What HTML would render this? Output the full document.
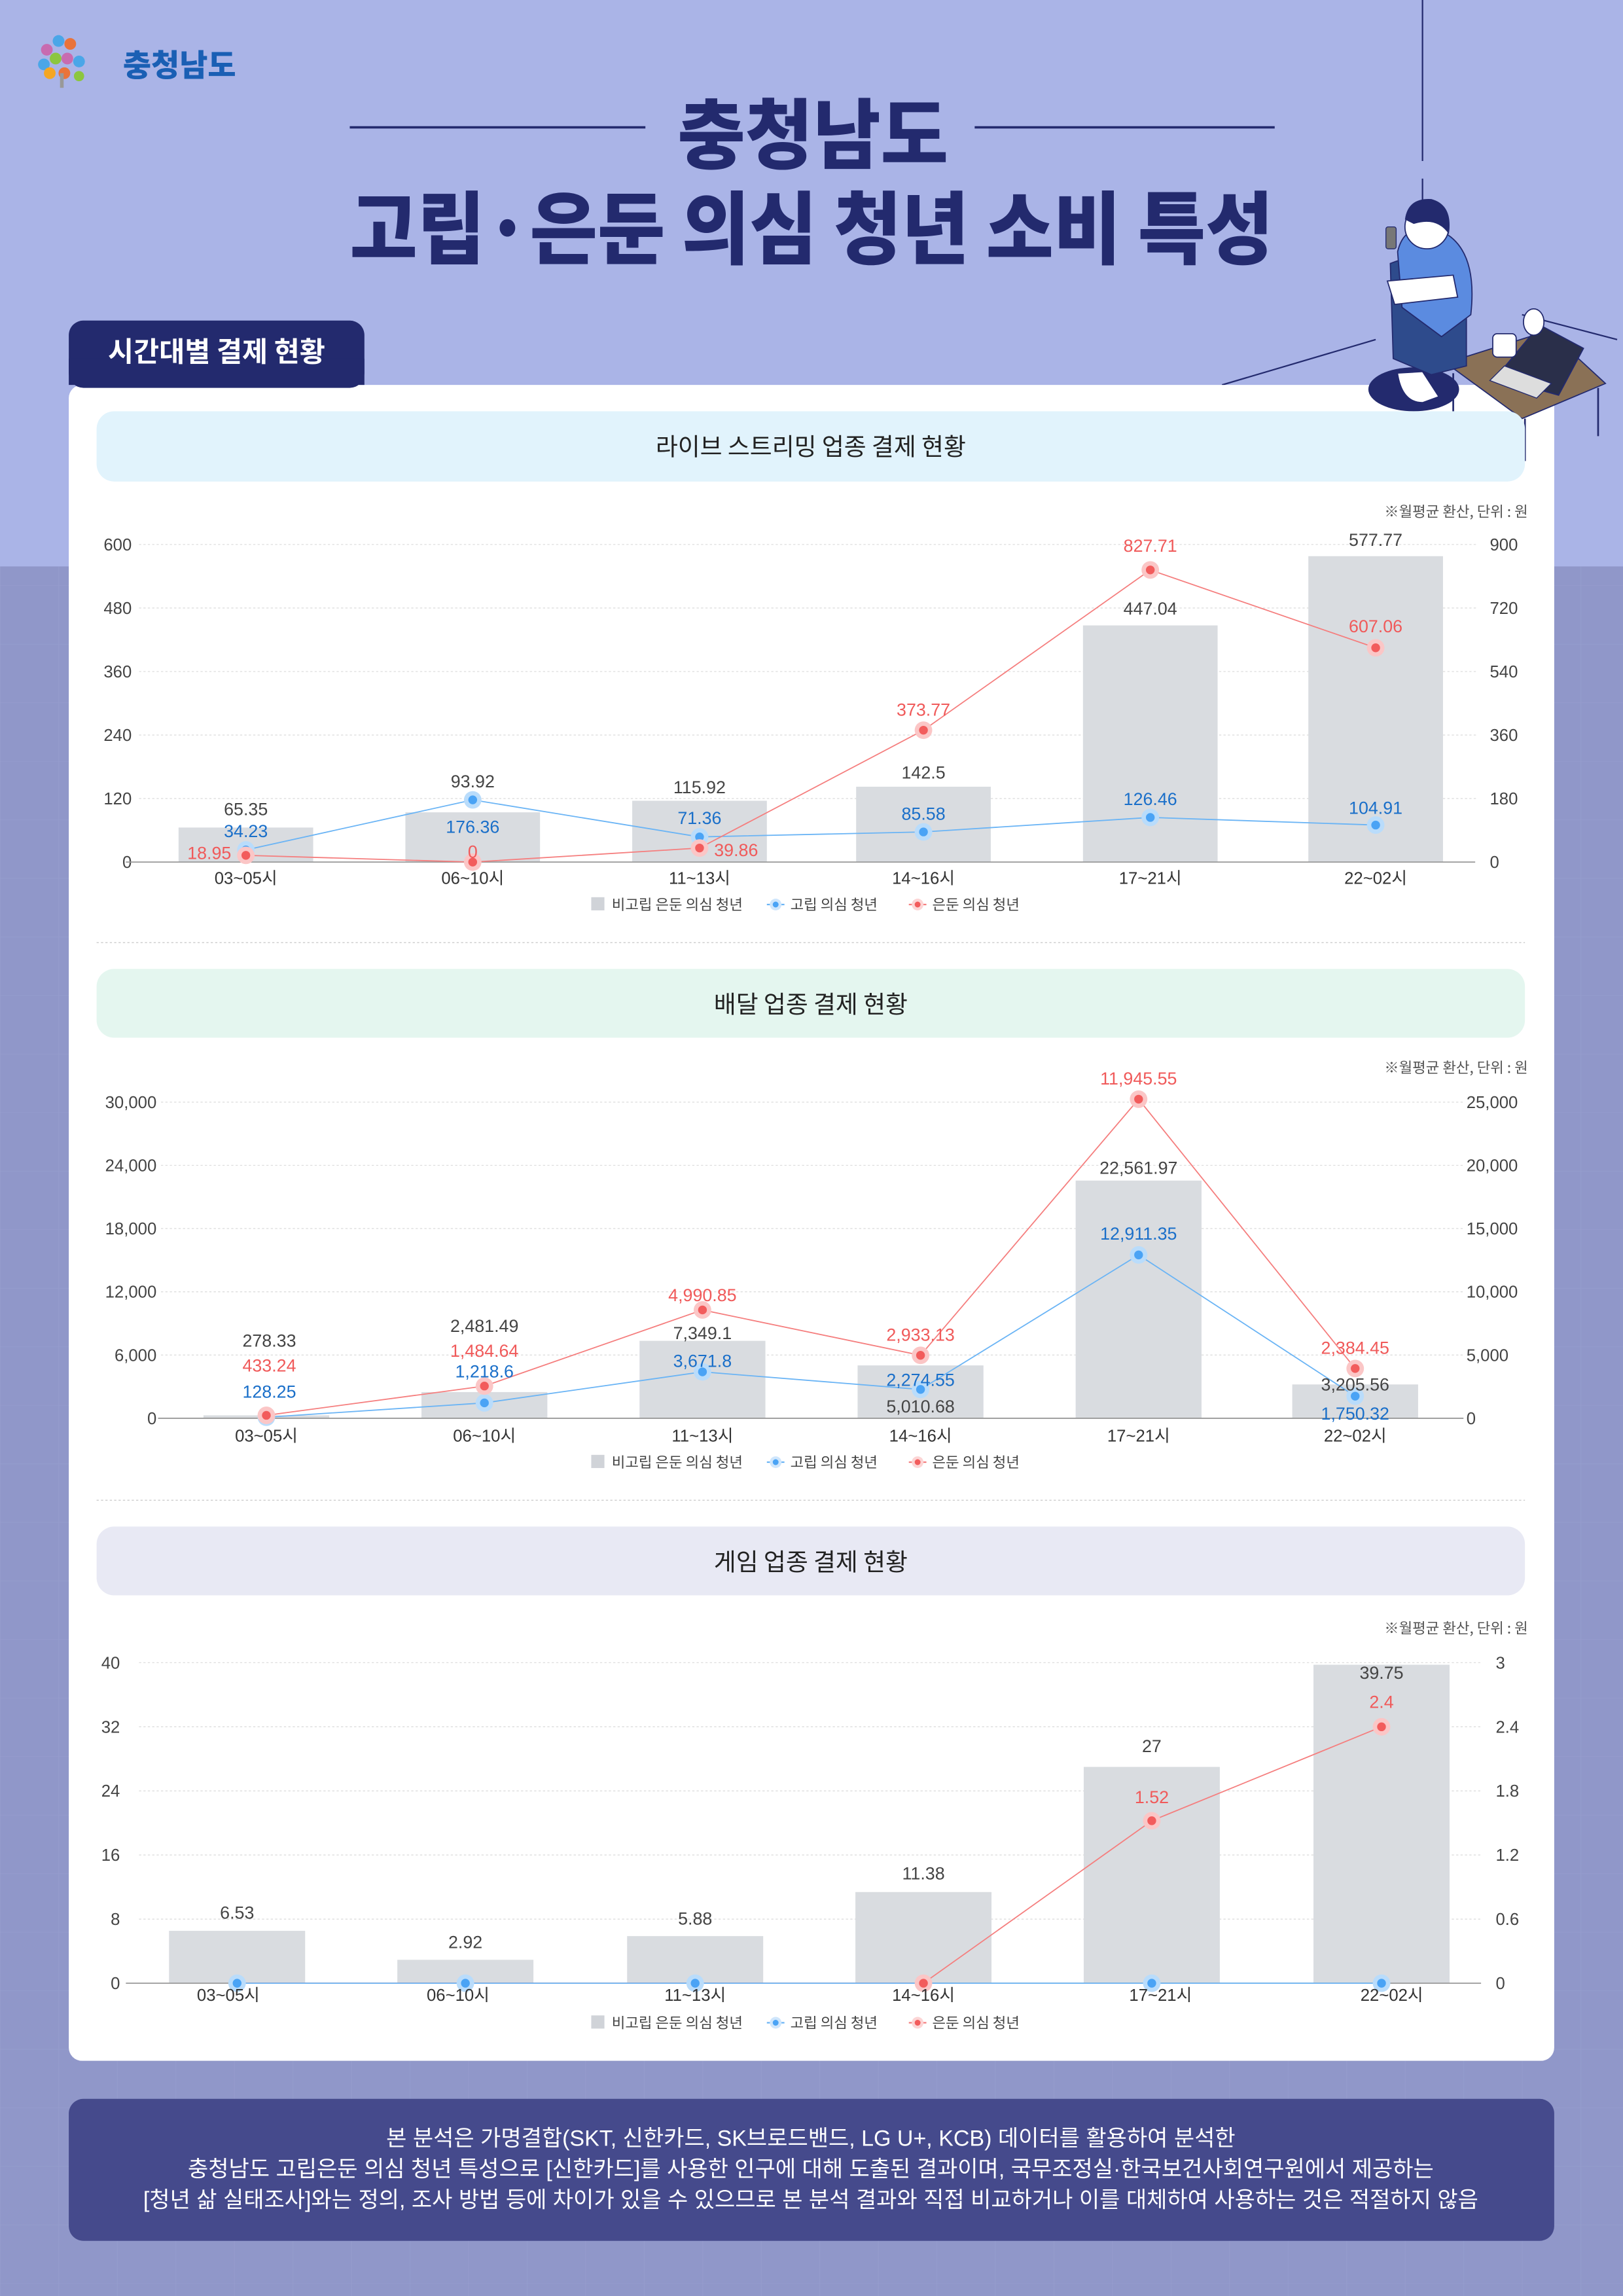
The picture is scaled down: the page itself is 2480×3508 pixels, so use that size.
<!DOCTYPE html>
<html><head><meta charset="utf-8"><style>
html,body{margin:0;padding:0;background:#9097c9;}
svg{display:block;}
text{font-family:"Liberation Sans","Noto Sans CJK KR",sans-serif;}
.k{font-family:"Noto Sans CJK KR","Liberation Sans",sans-serif;}
.ax{font-size:11.5px;fill:#444;}
.xl{font-size:11.5px;fill:#333;}
.g{font-size:12px;fill:#444;text-anchor:middle;}
.b{font-size:12px;fill:#1a6fc9;text-anchor:middle;}
.r{font-size:12px;fill:#f05a5a;text-anchor:middle;}
.lg{font-size:10px;fill:#444;}
.grid{stroke:#ddd;stroke-width:0.6;stroke-dasharray:1.5,1.5;}
</style></head><body>
<svg xmlns="http://www.w3.org/2000/svg" width="2480" height="3508" viewBox="0 0 1109 1568.7">
<defs>
<pattern id="pt" width="40" height="40" patternUnits="userSpaceOnUse"><path d="M40 0H0V40" fill="none" stroke="#979ece" stroke-width="0.6"/></pattern>
</defs>
<rect width="1109" height="1569" fill="#9097c9"/>
<rect y="387" width="1109" height="1182" fill="url(#pt)"/>
<rect width="1109" height="387" fill="#aab4e7"/>
<!-- deco lines -->
<line x1="972" y1="0" x2="972" y2="110" stroke="#232a6e" stroke-width="1"/>
<line x1="972" y1="122" x2="972" y2="190" stroke="#232a6e" stroke-width="1"/>
<line x1="835" y1="263" x2="940" y2="232" stroke="#232a6e" stroke-width="1"/>
<line x1="1040" y1="215" x2="1105" y2="232" stroke="#232a6e" stroke-width="1"/>
<!-- logo -->
<g>
<circle cx="32" cy="34" r="4" fill="#c86bb0"/><circle cx="40" cy="28" r="4" fill="#4aa6e8"/><circle cx="48" cy="30" r="4" fill="#e9733a"/>
<circle cx="30" cy="44" r="4" fill="#4aa6e8"/><circle cx="38" cy="40" r="4" fill="#8cc63f"/><circle cx="46" cy="40" r="4" fill="#c86bb0"/><circle cx="54" cy="42" r="4" fill="#4aa6e8"/>
<circle cx="34" cy="50" r="4" fill="#f5a623"/><circle cx="44" cy="50" r="4" fill="#e9733a"/><circle cx="54" cy="52" r="3.5" fill="#8cc63f"/>
<rect x="41" y="50" width="2.5" height="10" fill="#999"/>
<text x="84" y="52" class="k" font-size="21" font-weight="900" fill="#1a5fb4">충청남도</text>
</g>
<!-- title -->
<line x1="239" y1="87" x2="441" y2="87" stroke="#232a6e" stroke-width="1.6"/>
<line x1="666" y1="87" x2="871" y2="87" stroke="#232a6e" stroke-width="1.6"/>
<text x="463" y="111" class="k" font-size="52" font-weight="900" fill="#232a6e" textLength="185" lengthAdjust="spacingAndGlyphs">충청남도</text>
<text x="239" y="176" class="k" font-size="54" font-weight="900" fill="#232a6e" textLength="631" lengthAdjust="spacingAndGlyphs">고립·은둔 의심 청년 소비 특성</text>
<!-- card -->
<rect x="47" y="263" width="1015" height="1145" rx="9" fill="#fff"/>
<rect x="47" y="219" width="202" height="46" rx="10" fill="#232a6e"/>
<rect x="47" y="245" width="202" height="18" fill="#232a6e"/>
<text x="148" y="247" class="k" font-size="19" font-weight="700" fill="#fff" text-anchor="middle">시간대별 결제 현황</text>
<!-- illustration -->
<ellipse cx="966" cy="266" rx="31" ry="15" fill="#232a6e"/>
<polygon points="988,248 1058,226 1097,262 1040,286" fill="#8a7156" stroke="#232a6e" stroke-width="0.8"/>
<line x1="1042" y1="286" x2="1042" y2="315" stroke="#232a6e" stroke-width="1.2"/>
<line x1="1092" y1="265" x2="1092" y2="298" stroke="#232a6e" stroke-width="1.2"/>
<line x1="993" y1="255" x2="993" y2="285" stroke="#232a6e" stroke-width="1.2"/>
<polygon points="1052,222 1082,238 1065,270 1022,258" fill="#2a2f4a" stroke="#232a6e" stroke-width="0.8"/>
<polygon points="1028,250 1060,262 1050,272 1018,260" fill="#ddd" stroke="#232a6e" stroke-width="0.6"/>
<ellipse cx="1048" cy="220" rx="7" ry="9" fill="#fff" stroke="#232a6e" stroke-width="0.8"/>
<rect x="1020" y="228" width="16" height="16" rx="3" fill="#fff" stroke="#232a6e" stroke-width="0.8"/>
<path d="M950 180 Q975 170 1002 180 L1002 250 L978 256 L952 245 Z" fill="#2e4b8c" stroke="#232a6e" stroke-width="0.8"/>
<path d="M955 172 Q960 150 985 158 Q1010 170 1005 215 L985 230 L958 210 Z" fill="#5b8be0" stroke="#232a6e" stroke-width="0.8"/>
<path d="M948 192 L993 188 L996 203 L953 208 Z" fill="#fff" stroke="#232a6e" stroke-width="0.8"/>
<circle cx="975" cy="155" r="15" fill="#fff" stroke="#232a6e" stroke-width="0.8"/>
<path d="M960 150 Q962 135 978 136 Q993 140 990 160 Q982 148 966 153 Z" fill="#232a6e"/>
<rect x="947" y="155" width="7" height="15" rx="1.5" fill="#777" stroke="#232a6e" stroke-width="0.6"/>
<path d="M955 255 Q958 275 972 275 L983 271 L972 254 Z" fill="#fff" stroke="#232a6e" stroke-width="0.6"/>

<!-- ===== CHART 1 ===== -->
<rect x="66" y="281" width="976" height="48" rx="12" fill="#e1f3fc"/>
<text x="554" y="311" class="k" font-size="16.5" fill="#222" text-anchor="middle">라이브 스트리밍 업종 결제 현황</text>
<text x="1044" y="353" class="k" font-size="10" fill="#555" text-anchor="end">※월평균 환산, 단위 : 원</text>
<g>
<line class="grid" x1="95" y1="372" x2="1010" y2="372"/><line class="grid" x1="95" y1="415.4" x2="1010" y2="415.4"/>
<line class="grid" x1="95" y1="458.8" x2="1010" y2="458.8"/><line class="grid" x1="95" y1="502.2" x2="1010" y2="502.2"/>
<line class="grid" x1="95" y1="545.6" x2="1010" y2="545.6"/>
<g class="ax" text-anchor="end"><text x="90" y="376">600</text><text x="90" y="419.4">480</text><text x="90" y="462.8">360</text><text x="90" y="506.2">240</text><text x="90" y="549.6">120</text><text x="90" y="593">0</text></g>
<g class="ax"><text x="1018" y="376">900</text><text x="1018" y="419.4">720</text><text x="1018" y="462.8">540</text><text x="1018" y="506.2">360</text><text x="1018" y="549.6">180</text><text x="1018" y="593">0</text></g>
<g fill="#d9dce0"><rect x="122" y="565.4" width="92" height="23.6"/><rect x="277" y="555" width="92" height="34"/><rect x="432" y="547.1" width="92" height="41.9"/><rect x="585" y="537.5" width="92" height="51.5"/><rect x="740" y="427.3" width="92" height="161.7"/><rect x="894" y="380" width="92" height="209"/></g>
<line x1="86" y1="589" x2="1008" y2="589" stroke="#999" stroke-width="0.8"/>
<polyline points="168,580.7 323,546.5 478,571.8 631,568.4 786,558.5 940,563.7" fill="none" stroke="#6ab4f5" stroke-width="0.8"/>
<polyline points="168,584.4 323,589 478,579.4 631,498.9 786,389.4 940,442.6" fill="none" stroke="#f57e7e" stroke-width="0.8"/>
<g fill="#b9dcfb"><circle cx="168" cy="580.7" r="6"/><circle cx="323" cy="546.5" r="6"/><circle cx="478" cy="571.8" r="6"/><circle cx="631" cy="568.4" r="6"/><circle cx="786" cy="558.5" r="6"/><circle cx="940" cy="563.7" r="6"/></g>
<g fill="#4aa3f5"><circle cx="168" cy="580.7" r="3"/><circle cx="323" cy="546.5" r="3"/><circle cx="478" cy="571.8" r="3"/><circle cx="631" cy="568.4" r="3"/><circle cx="786" cy="558.5" r="3"/><circle cx="940" cy="563.7" r="3"/></g>
<g fill="#fbc6c6"><circle cx="168" cy="584.4" r="6"/><circle cx="323" cy="589" r="6"/><circle cx="478" cy="579.4" r="6"/><circle cx="631" cy="498.9" r="6"/><circle cx="786" cy="389.4" r="6"/><circle cx="940" cy="442.6" r="6"/></g>
<g fill="#f25c5c"><circle cx="168" cy="584.4" r="3"/><circle cx="323" cy="589" r="3"/><circle cx="478" cy="579.4" r="3"/><circle cx="631" cy="498.9" r="3"/><circle cx="786" cy="389.4" r="3"/><circle cx="940" cy="442.6" r="3"/></g>
<text class="g" x="168" y="557">65.35</text><text class="b" x="168" y="572">34.23</text><text class="r" x="143" y="587">18.95</text>
<text class="g" x="323" y="538">93.92</text><text class="b" x="323" y="569">176.36</text><text class="r" x="323" y="586">0</text>
<text class="g" x="478" y="542">115.92</text><text class="b" x="478" y="563">71.36</text><text class="r" x="503" y="585">39.86</text>
<text class="r" x="631" y="489">373.77</text><text class="g" x="631" y="532">142.5</text><text class="b" x="631" y="560">85.58</text>
<text class="r" x="786" y="377">827.71</text><text class="g" x="786" y="420">447.04</text><text class="b" x="786" y="550">126.46</text>
<text class="g" x="940" y="373">577.77</text><text class="r" x="940" y="432">607.06</text><text class="b" x="940" y="556">104.91</text>
<g class="xl" text-anchor="middle"><text x="168" y="604">03~05시</text><text x="323" y="604">06~10시</text><text x="478" y="604">11~13시</text><text x="631" y="604">14~16시</text><text x="786" y="604">17~21시</text><text x="940" y="604">22~02시</text></g>
<g><rect x="404" y="613" width="9" height="9" fill="#d0d3d8"/><text class="lg k" x="418" y="621.5">비고립 은둔 의심 청년</text>
<line x1="524" y1="618" x2="536" y2="618" stroke="#6ab4f5"/><circle cx="530" cy="618" r="4" fill="#cfe6fc"/><circle cx="530" cy="618" r="2" fill="#4aa3f5"/><text class="lg k" x="540" y="621.5">고립 의심 청년</text>
<line x1="621" y1="618" x2="633" y2="618" stroke="#f57e7e"/><circle cx="627" cy="618" r="4" fill="#fcd5d5"/><circle cx="627" cy="618" r="2" fill="#f25c5c"/><text class="lg k" x="637" y="621.5">은둔 의심 청년</text></g>
</g>
<line x1="66" y1="644" x2="1042" y2="644" stroke="#ccc" stroke-width="0.6" stroke-dasharray="1.5,1.5"/>

<!-- ===== CHART 2 ===== -->
<rect x="66" y="662" width="976" height="47" rx="12" fill="#e4f6ef"/>
<text x="554" y="692" class="k" font-size="16.5" fill="#222" text-anchor="middle">배달 업종 결제 현황</text>
<text x="1044" y="733" class="k" font-size="10" fill="#555" text-anchor="end">※월평균 환산, 단위 : 원</text>
<g>
<line class="grid" x1="110" y1="753" x2="1000" y2="753"/><line class="grid" x1="110" y1="796.2" x2="1000" y2="796.2"/>
<line class="grid" x1="110" y1="839.4" x2="1000" y2="839.4"/><line class="grid" x1="110" y1="882.6" x2="1000" y2="882.6"/>
<line class="grid" x1="110" y1="925.8" x2="1000" y2="925.8"/>
<g class="ax" text-anchor="end"><text x="107" y="757">30,000</text><text x="107" y="800.2">24,000</text><text x="107" y="843.4">18,000</text><text x="107" y="886.6">12,000</text><text x="107" y="929.8">6,000</text><text x="107" y="973">0</text></g>
<g class="ax"><text x="1002" y="757">25,000</text><text x="1002" y="800.2">20,000</text><text x="1002" y="843.4">15,000</text><text x="1002" y="886.6">10,000</text><text x="1002" y="929.8">5,000</text><text x="1002" y="973">0</text></g>
<g fill="#d9dce0"><rect x="139" y="967" width="86" height="2"/><rect x="288" y="951.1" width="86" height="17.9"/><rect x="437" y="916.1" width="86" height="52.9"/><rect x="586" y="932.9" width="86" height="36.1"/><rect x="735" y="806.6" width="86" height="162.4"/><rect x="883" y="945.9" width="86" height="23.1"/></g>
<line x1="108" y1="969" x2="1000" y2="969" stroke="#999" stroke-width="0.8"/>
<polyline points="182,968.3 331,958.5 480,937.3 629,949.3 778,857.4 926,953.9" fill="none" stroke="#6ab4f5" stroke-width="0.8"/>
<polyline points="182,967 331,947 480,895 629,926 778,751 926,935" fill="none" stroke="#f57e7e" stroke-width="0.8"/>
<g fill="#b9dcfb"><circle cx="182" cy="968.3" r="6"/><circle cx="331" cy="958.5" r="6"/><circle cx="480" cy="937.3" r="6"/><circle cx="629" cy="949.3" r="6"/><circle cx="778" cy="857.4" r="6"/><circle cx="926" cy="953.9" r="6"/></g>
<g fill="#4aa3f5"><circle cx="182" cy="968.3" r="3"/><circle cx="331" cy="958.5" r="3"/><circle cx="480" cy="937.3" r="3"/><circle cx="629" cy="949.3" r="3"/><circle cx="778" cy="857.4" r="3"/><circle cx="926" cy="953.9" r="3"/></g>
<g fill="#fbc6c6"><circle cx="182" cy="967" r="6"/><circle cx="331" cy="947" r="6"/><circle cx="480" cy="895" r="6"/><circle cx="629" cy="926" r="6"/><circle cx="778" cy="751" r="6"/><circle cx="926" cy="935" r="6"/></g>
<g fill="#f25c5c"><circle cx="182" cy="967" r="3"/><circle cx="331" cy="947" r="3"/><circle cx="480" cy="895" r="3"/><circle cx="629" cy="926" r="3"/><circle cx="778" cy="751" r="3"/><circle cx="926" cy="935" r="3"/></g>
<text class="g" x="184" y="920">278.33</text><text class="r" x="184" y="937">433.24</text><text class="b" x="184" y="955">128.25</text>
<text class="g" x="331" y="910">2,481.49</text><text class="r" x="331" y="927">1,484.64</text><text class="b" x="331" y="941">1,218.6</text>
<text class="r" x="480" y="889">4,990.85</text><text class="g" x="480" y="915">7,349.1</text><text class="b" x="480" y="934">3,671.8</text>
<text class="r" x="629" y="916">2,933.13</text><text class="b" x="629" y="947">2,274.55</text><text class="g" x="629" y="965">5,010.68</text>
<text class="r" x="778" y="741">11,945.55</text><text class="g" x="778" y="802">22,561.97</text><text class="b" x="778" y="847">12,911.35</text>
<text class="r" x="926" y="925">2,384.45</text><text class="g" x="926" y="950">3,205.56</text><text class="b" x="926" y="970">1,750.32</text>
<g class="xl" text-anchor="middle"><text x="182" y="985">03~05시</text><text x="331" y="985">06~10시</text><text x="480" y="985">11~13시</text><text x="629" y="985">14~16시</text><text x="778" y="985">17~21시</text><text x="926" y="985">22~02시</text></g>
<g><rect x="404" y="994" width="9" height="9" fill="#d0d3d8"/><text class="lg k" x="418" y="1002.5">비고립 은둔 의심 청년</text>
<line x1="524" y1="999" x2="536" y2="999" stroke="#6ab4f5"/><circle cx="530" cy="999" r="4" fill="#cfe6fc"/><circle cx="530" cy="999" r="2" fill="#4aa3f5"/><text class="lg k" x="540" y="1002.5">고립 의심 청년</text>
<line x1="621" y1="999" x2="633" y2="999" stroke="#f57e7e"/><circle cx="627" cy="999" r="4" fill="#fcd5d5"/><circle cx="627" cy="999" r="2" fill="#f25c5c"/><text class="lg k" x="637" y="1002.5">은둔 의심 청년</text></g>
</g>
<line x1="66" y1="1025" x2="1042" y2="1025" stroke="#ccc" stroke-width="0.6" stroke-dasharray="1.5,1.5"/>

<!-- ===== CHART 3 ===== -->
<rect x="66" y="1043" width="976" height="47" rx="12" fill="#e8e9f4"/>
<text x="554" y="1073" class="k" font-size="16.5" fill="#222" text-anchor="middle">게임 업종 결제 현황</text>
<text x="1044" y="1116" class="k" font-size="10" fill="#555" text-anchor="end">※월평균 환산, 단위 : 원</text>
<g>
<line class="grid" x1="95" y1="1136" x2="1012" y2="1136"/><line class="grid" x1="95" y1="1179.8" x2="1012" y2="1179.8"/>
<line class="grid" x1="95" y1="1223.6" x2="1012" y2="1223.6"/><line class="grid" x1="95" y1="1267.4" x2="1012" y2="1267.4"/>
<line class="grid" x1="95" y1="1311.2" x2="1012" y2="1311.2"/>
<g class="ax" text-anchor="end"><text x="82" y="1140">40</text><text x="82" y="1183.8">32</text><text x="82" y="1227.6">24</text><text x="82" y="1271.4">16</text><text x="82" y="1315.2">8</text><text x="82" y="1359">0</text></g>
<g class="ax"><text x="1022" y="1140">3</text><text x="1022" y="1183.8">2.4</text><text x="1022" y="1227.6">1.8</text><text x="1022" y="1271.4">1.2</text><text x="1022" y="1315.2">0.6</text><text x="1022" y="1359">0</text></g>
<g fill="#d9dce0"><rect x="115.5" y="1319.2" width="93" height="35.8"/><rect x="271.5" y="1339" width="93" height="16"/><rect x="428.5" y="1322.8" width="93" height="32.2"/><rect x="584.5" y="1292.7" width="93" height="62.3"/><rect x="740.5" y="1207.2" width="93" height="147.8"/><rect x="897.5" y="1137.4" width="93" height="217.6"/></g>
<line x1="86" y1="1355" x2="1012" y2="1355" stroke="#999" stroke-width="0.8"/>
<polyline points="162,1355 318,1355 475,1355 631,1355 787,1244 944,1179.8" fill="none" stroke="#f57e7e" stroke-width="0.8"/>
<polyline points="162,1355 944,1355" fill="none" stroke="#6ab4f5" stroke-width="0.8"/>
<g fill="#fbc6c6"><circle cx="631" cy="1355" r="6"/><circle cx="787" cy="1244" r="6"/><circle cx="944" cy="1179.8" r="6"/></g>
<g fill="#f25c5c"><circle cx="631" cy="1355" r="3"/><circle cx="787" cy="1244" r="3"/><circle cx="944" cy="1179.8" r="3"/></g>
<g fill="#b9dcfb"><circle cx="162" cy="1355" r="6"/><circle cx="318" cy="1355" r="6"/><circle cx="475" cy="1355" r="6"/><circle cx="787" cy="1355" r="6"/><circle cx="944" cy="1355" r="6"/></g>
<g fill="#4aa3f5"><circle cx="162" cy="1355" r="3"/><circle cx="318" cy="1355" r="3"/><circle cx="475" cy="1355" r="3"/><circle cx="787" cy="1355" r="3"/><circle cx="944" cy="1355" r="3"/></g>
<text class="g" x="162" y="1311">6.53</text><text class="g" x="318" y="1331">2.92</text><text class="g" x="475" y="1315">5.88</text><text class="g" x="631" y="1284">11.38</text>
<text class="g" x="787" y="1197">27</text><text class="r" x="787" y="1232">1.52</text>
<text class="g" x="944" y="1147">39.75</text><text class="r" x="944" y="1167">2.4</text>
<g class="xl" text-anchor="middle"><text x="156" y="1367">03~05시</text><text x="313" y="1367">06~10시</text><text x="475" y="1367">11~13시</text><text x="631" y="1367">14~16시</text><text x="793" y="1367">17~21시</text><text x="951" y="1367">22~02시</text></g>
<g><rect x="404" y="1377" width="9" height="9" fill="#d0d3d8"/><text class="lg k" x="418" y="1385.5">비고립 은둔 의심 청년</text>
<line x1="524" y1="1382" x2="536" y2="1382" stroke="#6ab4f5"/><circle cx="530" cy="1382" r="4" fill="#cfe6fc"/><circle cx="530" cy="1382" r="2" fill="#4aa3f5"/><text class="lg k" x="540" y="1385.5">고립 의심 청년</text>
<line x1="621" y1="1382" x2="633" y2="1382" stroke="#f57e7e"/><circle cx="627" cy="1382" r="4" fill="#fcd5d5"/><circle cx="627" cy="1382" r="2" fill="#f25c5c"/><text class="lg k" x="637" y="1385.5">은둔 의심 청년</text></g>
</g>

<!-- footer -->
<rect x="47" y="1434" width="1015" height="97" rx="10" fill="#454a8c"/>
<g class="k" font-size="15.2" fill="#fff" text-anchor="middle">
<text x="554" y="1466">본 분석은 가명결합(SKT, 신한카드, SK브로드밴드, LG U+, KCB) 데이터를 활용하여 분석한</text>
<text x="554" y="1487">충청남도 고립은둔 의심 청년 특성으로 [신한카드]를 사용한 인구에 대해 도출된 결과이며, 국무조정실·한국보건사회연구원에서 제공하는</text>
<text x="554" y="1508">[청년 삶 실태조사]와는 정의, 조사 방법 등에 차이가 있을 수 있으므로 본 분석 결과와 직접 비교하거나 이를 대체하여 사용하는 것은 적절하지 않음</text>
</g>
</svg>
</body></html>
